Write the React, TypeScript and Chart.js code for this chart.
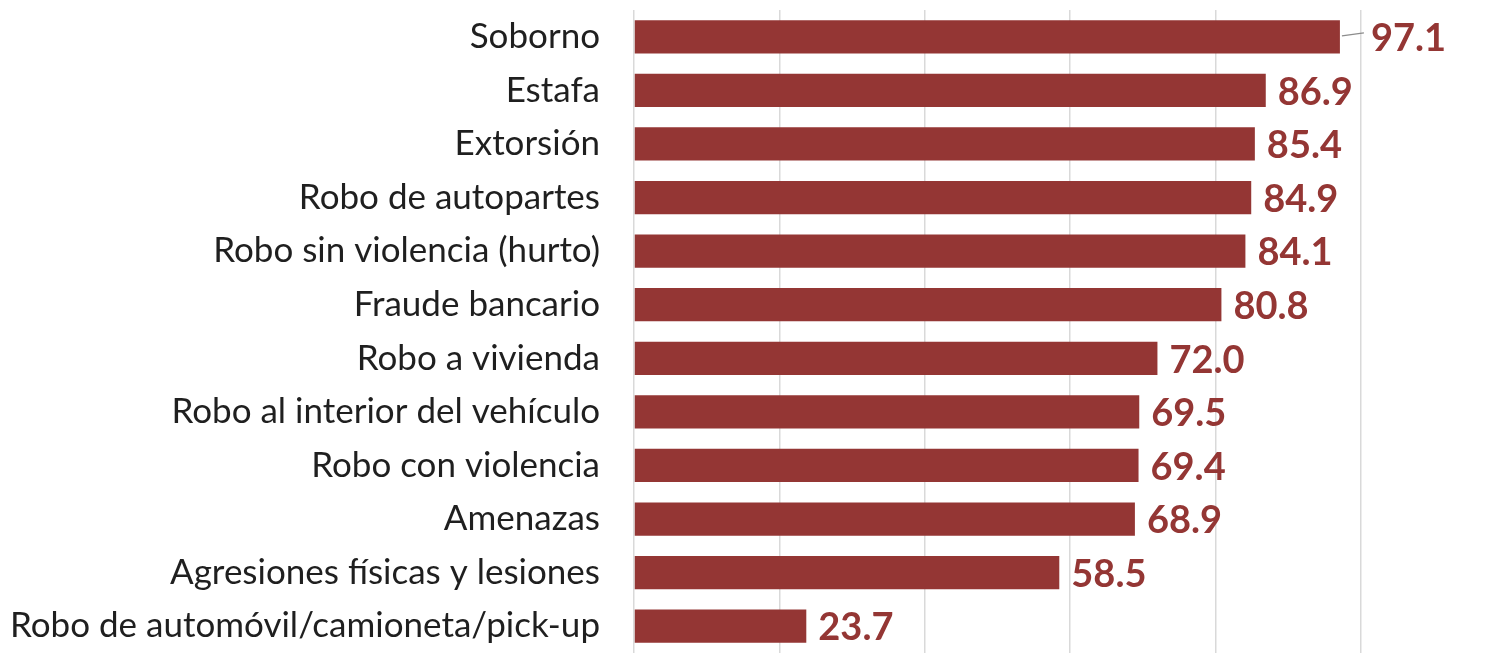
import React, { useEffect, useRef } from "react";
import { Chart, registerables } from "chart.js";

Chart.register(...registerables);

const categories = [
  "Soborno",
  "Estafa",
  "Extorsión",
  "Robo de autopartes",
  "Robo sin violencia (hurto)",
  "Fraude bancario",
  "Robo a vivienda",
  "Robo al interior del vehículo",
  "Robo con violencia",
  "Amenazas",
  "Agresiones físicas y lesiones",
  "Robo de automóvil/camioneta/pick-up",
];

const values = [97.1, 86.9, 85.4, 84.9, 84.1, 80.8, 72.0, 69.5, 69.4, 68.9, 58.5, 23.7];

const xMin = 0;
const xMax = 100;
const xStep = 20;

const BAR_COLOR = "#943634";
const LABEL_COLOR = "#943634";
const TEXT_COLOR = "#1f1f1f";
const GRID_COLOR = "#d9d9d9";

const valueLabels = {
  id: "valueLabels",
  afterDatasetsDraw(chart: any) {
    const ctx = chart.ctx;
    const meta = chart.getDatasetMeta(0);
    ctx.save();
    ctx.font = "bold 38px Lato";
    ctx.fillStyle = LABEL_COLOR;
    ctx.textBaseline = "middle";
    ctx.textAlign = "left";
    meta.data.forEach((bar: any, i: number) => {
      const v = values[i];
      let x = bar.x + 12;
      if (i === 0) {
        ctx.save();
        ctx.strokeStyle = "#8c8c8c";
        ctx.lineWidth = 1.2;
        ctx.beginPath();
        ctx.moveTo(bar.x + 2, bar.y - 1);
        ctx.lineTo(bar.x + 24, bar.y - 4);
        ctx.stroke();
        ctx.restore();
        x = bar.x + 31;
      }
      ctx.fillText(v.toFixed(1), x, bar.y + 2);
    });
    ctx.restore();
  },
};

export default function App() {
  const ref = useRef<HTMLCanvasElement | null>(null);
  useEffect(() => {
    if (!ref.current) return;
    const chart = new Chart(ref.current, {
      type: "bar",
      data: {
        labels: categories,
        datasets: [
          {
            data: values,
            backgroundColor: BAR_COLOR,
            borderWidth: 0,
            categoryPercentage: 1,
            barPercentage: 0.62,
          },
        ],
      },
      options: {
        indexAxis: "y",
        animation: false,
        responsive: false,
        maintainAspectRatio: false,
        layout: { padding: { top: 10, right: 132, bottom: -3, left: 0 } },
        plugins: {
          legend: { display: false },
          tooltip: { enabled: false },
        },
        scales: {
          x: {
            min: xMin,
            max: xMax,
            ticks: { display: false, stepSize: xStep },
            grid: { color: GRID_COLOR, lineWidth: 1.5, drawTicks: false },
            border: { display: false },
            afterFit(scale: any) {
              scale.height = 0;
              scale.paddingLeft = 0;
              scale.paddingRight = 0;
            },
          },
          y: {
            grid: { display: false, drawTicks: false },
            border: { display: false },
            ticks: {
              color: TEXT_COLOR,
              font: { family: "Lato", size: 35 },
              padding: 34,
              autoSkip: false,
            },
            afterFit(scale: any) {
              scale.width = 634;
              scale.paddingTop = 0;
              scale.paddingBottom = 0;
            },
          },
        },
      },
      plugins: [valueLabels],
    });
    return () => chart.destroy();
  }, []);
  return (
    <div style={{ position: "fixed", left: 0, top: 0, width: 1493, height: 653, background: "#fff" }}>
      <canvas ref={ref} width={1493} height={653} style={{ display: "block" }} />
    </div>
  );
}
